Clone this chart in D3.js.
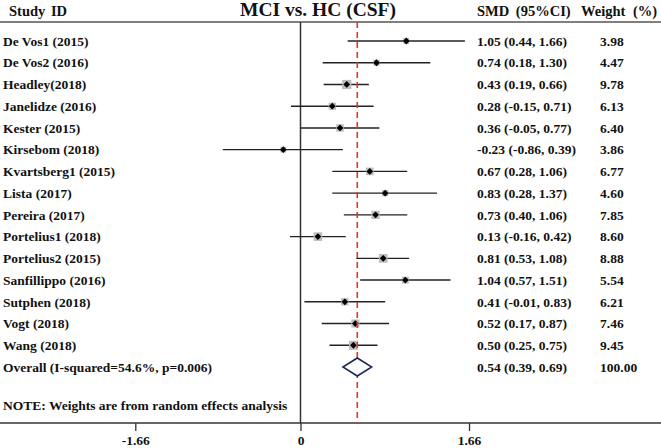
<!DOCTYPE html>
<html>
<head>
<meta charset="utf-8">
<script src="https://cdn.jsdelivr.net/npm/d3@7"></script>
<style>
  html, body { margin: 0; padding: 0; background: #fff; }
  svg { display: block; }
  text { font-family: "Liberation Serif", "Times New Roman", serif; font-weight: bold; fill: #111; }
</style>
</head>
<body>
<svg id="chart" width="661" height="448"></svg>
<script>
const studies = ["De Vos1 (2015)", "De Vos2 (2016)", "Headley(2018)", "Janelidze (2016)", "Kester (2015)",
  "Kirsebom (2018)", "Kvartsberg1 (2015)", "Lista (2017)", "Pereira (2017)", "Portelius1 (2018)",
  "Portelius2 (2015)", "Sanfillippo (2016)", "Sutphen (2018)", "Vogt (2018)", "Wang (2018)"];
const smd   = [1.05, 0.74, 0.43, 0.28, 0.36, -0.23, 0.67, 0.83, 0.73, 0.13, 0.81, 1.04, 0.41, 0.52, 0.50];
const lower = [0.44, 0.18, 0.19, -0.15, -0.05, -0.86, 0.28, 0.28, 0.40, -0.16, 0.53, 0.57, -0.01, 0.17, 0.25];
const upper = [1.66, 1.30, 0.66, 0.71, 0.77, 0.39, 1.06, 1.37, 1.06, 0.42, 1.08, 1.51, 0.83, 0.87, 0.75];
const weights = [3.98, 4.47, 9.78, 6.13, 6.40, 3.86, 6.77, 4.60, 7.85, 8.60, 8.88, 5.54, 6.21, 7.46, 9.45];
const overallLabel = "Overall (I-squared=54.6%, p=0.006)";
const overall = { est: 0.54, lo: 0.39, hi: 0.69, weight: 100.00 };
const tickValues = [-1.66, 0, 1.66];
const tickLabels = ["-1.66", "0", "1.66"];

(function () {
const fmt = v => d3.format(".2f")(v).replace("\u2212", "-");
const svg = d3.select("#chart");

// scales
const x = d3.scaleLinear().domain([-0.23, 1.05]).range([283.3, 406.3]);          // effect sizes
const xAxisScale = d3.scaleLinear().domain([-1.66, 0, 1.66]).range([135.3, 300.5, 469]); // drawn axis
const rows = studies.concat([overallLabel]);
const y = d3.scalePoint().domain(rows).range([41, 367]);
const boxSize = d3.scaleSqrt().domain([0, 9.78]).range([0, 9.2]);

const topY = 22, axisY = 423;
const fs = 13.5;

// headers
svg.append("text").attr("x", 9).attr("y", 15.5).attr("font-size", 14.5).attr("word-spacing", 2).text("Study ID");
svg.append("text").attr("x", 318).attr("y", 16).attr("font-size", 19.5).attr("text-anchor", "middle").text("MCI vs. HC (CSF)");
svg.append("text").attr("x", 477).attr("y", 15.5).attr("font-size", 14.5).attr("word-spacing", 3).text("SMD (95%CI)");
svg.append("text").attr("x", 581).attr("y", 15.5).attr("font-size", 14.5).attr("word-spacing", 4).text("Weight (%)");

// header rule
svg.append("line").attr("x1", 0).attr("x2", 661).attr("y1", topY).attr("y2", topY)
  .attr("stroke", "#555").attr("stroke-width", 1.5);

// axis
const axis = d3.axisBottom(xAxisScale).tickValues(tickValues).tickFormat((d, i) => tickLabels[i]).tickSize(8).tickPadding(4);
const ag = svg.append("g").attr("transform", `translate(0,${axisY})`).call(axis);
ag.select(".domain").remove();
ag.selectAll(".tick line").attr("stroke", "#333").attr("stroke-width", 1.3);
ag.selectAll(".tick text").attr("font-size", fs).attr("font-family", "Liberation Serif, serif").attr("font-weight", "bold").attr("fill", "#111");
svg.append("line").attr("x1", 0).attr("x2", 661).attr("y1", axisY).attr("y2", axisY)
  .attr("stroke", "#333").attr("stroke-width", 1.3);

// zero line
svg.append("line").attr("x1", xAxisScale(0)).attr("x2", xAxisScale(0)).attr("y1", topY).attr("y2", axisY)
  .attr("stroke", "#333").attr("stroke-width", 1.5);

// CI lines
const g = svg.append("g");
g.selectAll("line.ci").data(studies).join("line").attr("class", "ci")
  .attr("x1", (d, i) => x(lower[i])).attr("x2", (d, i) => x(upper[i]))
  .attr("y1", d => y(d)).attr("y2", d => y(d))
  .attr("stroke", "#222").attr("stroke-width", 1.4);

// weight boxes
g.selectAll("rect.box").data(studies).join("rect").attr("class", "box")
  .attr("x", (d, i) => x(smd[i]) - boxSize(weights[i]) / 2)
  .attr("y", (d, i) => y(d) - boxSize(weights[i]) / 2)
  .attr("width", (d, i) => boxSize(weights[i]))
  .attr("height", (d, i) => boxSize(weights[i]))
  .attr("fill", "#bdbdbd");

// overall effect dashed line
svg.append("line").attr("x1", x(overall.est)).attr("x2", x(overall.est)).attr("y1", topY).attr("y2", axisY)
  .attr("stroke", "#e8302c").attr("stroke-width", 1.6).attr("stroke-dasharray", "6,4");

// point markers
g.selectAll("path.pt").data(studies).join("path").attr("class", "pt")
  .attr("d", (d, i) => {
    const cx = x(smd[i]), cy = y(d), r = 3.4;
    return `M${cx},${cy - r}L${cx + r},${cy}L${cx},${cy + r}L${cx - r},${cy}Z`;
  })
  .attr("fill", "#000");

// overall diamond
const oy = y(overallLabel);
svg.append("path")
  .attr("d", `M${x(overall.lo)},${oy}L${x(overall.est)},${oy - 9}L${x(overall.hi)},${oy}L${x(overall.est)},${oy + 9}Z`)
  .attr("fill", "#fff").attr("stroke", "#1c2557").attr("stroke-width", 1.5);

// row labels
svg.append("g").selectAll("text").data(rows).join("text")
  .attr("x", 3).attr("y", d => y(d) + 4.7).attr("font-size", fs).text(d => d);

// SMD text
const smdText = studies.map((d, i) => `${fmt(smd[i])} (${fmt(lower[i])}, ${fmt(upper[i])})`)
  .concat([`${fmt(overall.est)} (${fmt(overall.lo)}, ${fmt(overall.hi)})`]);
svg.append("g").selectAll("text").data(rows).join("text")
  .attr("x", 477).attr("y", d => y(d) + 4.7).attr("font-size", fs).text((d, i) => smdText[i]);

// weights text
const wText = weights.map(fmt).concat([fmt(overall.weight)]);
svg.append("g").selectAll("text").data(rows).join("text")
  .attr("x", 600).attr("y", d => y(d) + 4.7).attr("font-size", fs).text((d, i) => wText[i]);

// note
svg.append("text").attr("x", 3).attr("y", 410).attr("font-size", fs)
  .text("NOTE: Weights are from random effects analysis");
})();
</script>
</body>
</html>
